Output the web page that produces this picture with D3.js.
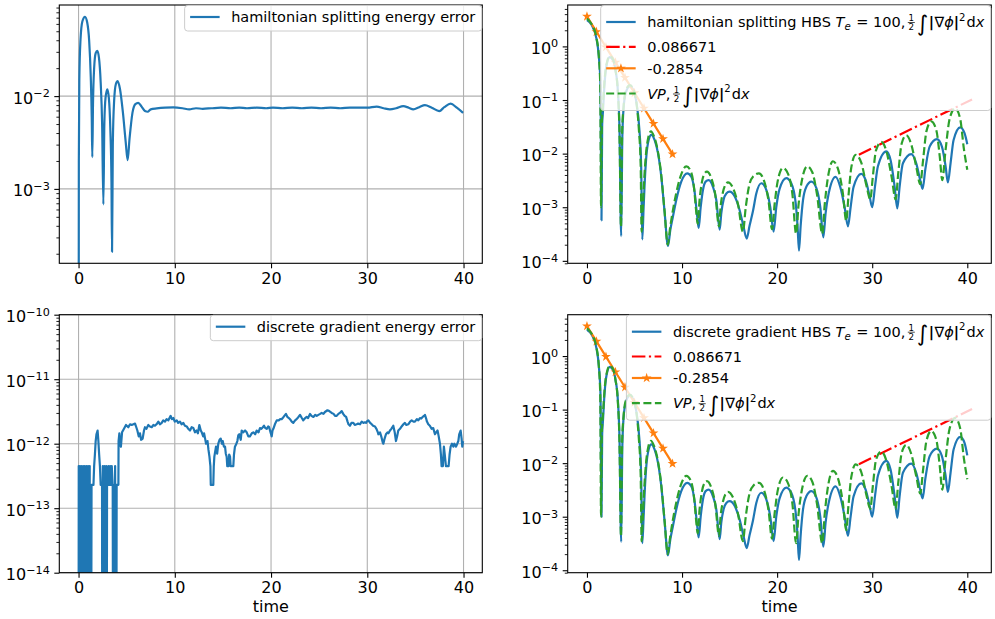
<!DOCTYPE html>
<html>
<head>
<meta charset="utf-8">
<script src="https://cdn.jsdelivr.net/npm/d3@7"></script>
<style>
  body { margin: 0; background: #fff; }
  svg { display: block; font-family: "DejaVu Sans", sans-serif; }
  text { white-space: pre; fill: #000; }
</style>
</head>
<body>
<svg id="fig" width="995" height="619"></svg>
<script>
// ---------- data ----------
const xTicks = [0, 10, 20, 30, 40];

// energy error of the hamiltonian splitting scheme  [time, |error|]
const hsError = [[0,0],[0.03,0.002],[0.08,0.015],[0.2,0.04],[0.4,0.064],[0.67,0.0716],[0.9,0.062],[1.1,0.04],[1.27,0.016],[1.37,0.006],[1.43,0.0022],[1.5,0.008],[1.62,0.02],[1.78,0.029],[1.95,0.0308],[2.12,0.026],[2.3,0.014],[2.45,0.005],[2.58,0.00068],[2.68,0.005],[2.8,0.0095],[2.99,0.0118],[3.15,0.0095],[3.3,0.0045],[3.42,0.0012],[3.48,0.00021],[3.56,0.003],[3.7,0.009],[3.88,0.0135],[4.06,0.0145],[4.3,0.012],[4.6,0.0068],[4.9,0.0032],[5.1,0.00204],[5.3,0.0035],[5.6,0.0066],[5.9,0.0082],[6.2,0.00847],[6.55,0.0077],[6.9,0.0069],[7.18,0.00678],[7.5,0.0072],[8.12,0.00736],[9.0,0.0075],[9.85,0.00755],[10.8,0.0074],[11.5,0.0072],[12.2,0.0074],[12.9,0.0073],[13.8,0.0074],[14.8,0.0075],[15.8,0.0074],[16.7,0.0075],[17.5,0.0074],[18.5,0.0075],[19.5,0.0074],[20.2,0.0075],[21.2,0.0074],[22.2,0.0075],[23.2,0.0074],[24.2,0.0075],[25.2,0.0074],[26.2,0.0075],[27.2,0.0074],[28.2,0.0075],[29.2,0.0075],[30.0,0.0075],[30.97,0.0077],[31.7,0.0074],[32.35,0.0072],[33.0,0.0074],[33.74,0.0078],[34.3,0.0075],[34.78,0.0072],[35.4,0.0076],[35.99,0.008],[36.7,0.0075],[37.48,0.0069],[38.0,0.0076],[38.66,0.0083],[39.3,0.0075],[39.95,0.0066]];

// energy error of the discrete gradient scheme  [time, |error|]  (0 = exact)
const dgError = [[0,0],[0.02,4.5e-13],[0.05,0],[0.08,2.3e-13],[0.11,0],[0.14,4.5e-13],[0.17,0],[0.2,2.3e-13],[0.24,0],[0.28,4.5e-13],[0.32,2.3e-13],[0.36,0],[0.4,2.3e-13],[0.44,0],[0.48,4.5e-13],[0.52,0],[0.56,2.3e-13],[0.6,0],[0.64,4.5e-13],[0.68,2.3e-13],[0.72,0],[0.76,2.3e-13],[0.8,0],[0.84,4.5e-13],[0.88,0],[0.92,2.3e-13],[0.96,0],[1.0,4.5e-13],[1.04,2.3e-13],[1.08,0],[1.12,2.3e-13],[1.16,4.5e-13],[1.2,0],[1.25,2.3e-13],[1.3,0],[1.35,2.3e-13],[1.55,2.3e-13],[1.62,4.5e-13],[1.7,6.8e-13],[1.78,1.1e-12],[1.86,1.4e-12],[1.98,1.6e-12],[2.06,1.1e-12],[2.14,6.8e-13],[2.22,4.5e-13],[2.3,2.3e-13],[2.44,2.3e-13],[2.48,0],[2.52,4.5e-13],[2.56,0],[2.6,2.3e-13],[2.64,0],[2.68,4.5e-13],[2.72,2.3e-13],[2.76,0],[2.8,2.3e-13],[2.84,0],[2.88,4.5e-13],[2.92,0],[2.96,2.3e-13],[3.05,2.3e-13],[3.1,4.5e-13],[3.2,2.3e-13],[3.28,4.5e-13],[3.36,2.3e-13],[3.45,4.5e-13],[3.55,2.3e-13],[3.6,0],[3.64,2.3e-13],[3.68,0],[3.72,2.3e-13],[3.76,0],[3.8,4.5e-13],[3.84,0],[3.88,2.3e-13],[3.92,0],[3.96,2.3e-13],[4.14,2.3e-13],[4.16,1.1e-12],[4.24,1.45e-12],[4.32,1.0e-12],[4.4,9e-13],[4.52,1.5e-12],[4.72,1.7e-12],[4.93,1.95e-12],[5.17,1.8e-12],[5.35,2.0e-12],[5.52,1.95e-12],[5.7,2.0e-12],[5.87,2.05e-12],[6.0,1.8e-12],[6.11,1.6e-12],[6.25,1.3e-12],[6.38,1.45e-12],[6.5,1.15e-12],[6.66,1.2e-12],[6.8,1.6e-12],[6.9,1.8e-12],[7.05,1.7e-12],[7.25,1.95e-12],[7.42,1.85e-12],[7.6,1.8e-12],[7.78,1.95e-12],[7.94,1.9e-12],[8.1,2.0e-12],[8.29,2.2e-12],[8.45,2.0e-12],[8.64,2.1e-12],[8.8,2.3e-12],[8.98,2.2e-12],[9.15,2.4e-12],[9.33,2.3e-12],[9.57,2.7e-12],[9.7,2.4e-12],[9.85,2.5e-12],[10.0,2.2e-12],[10.2,2.3e-12],[10.35,2.1e-12],[10.54,2.2e-12],[10.7,2.0e-12],[10.89,2.1e-12],[11.05,1.9e-12],[11.24,1.85e-12],[11.4,1.7e-12],[11.58,1.6e-12],[11.75,1.8e-12],[11.93,1.75e-12],[12.1,1.5e-12],[12.27,1.6e-12],[12.4,1.45e-12],[12.55,1.95e-12],[12.7,1.6e-12],[12.8,1.5e-12],[12.95,1.3e-12],[13.04,1.45e-12],[13.15,1.2e-12],[13.25,1.0e-12],[13.4,1.1e-12],[13.5,8e-13],[13.6,6.3e-13],[13.7,4.5e-13],[13.74,2.3e-13],[14.0,2.3e-13],[14.05,4.5e-13],[14.11,6.3e-13],[14.28,9e-13],[14.4,7e-13],[14.52,1.0e-12],[14.65,1.15e-12],[14.77,1.2e-12],[14.9,1.0e-12],[14.98,1.1e-12],[15.1,9e-13],[15.22,9e-13],[15.3,7e-13],[15.39,6.3e-13],[15.45,4.5e-13],[15.6,4.5e-13],[15.65,6.8e-13],[15.74,6.3e-13],[15.8,4.5e-13],[16.08,4.5e-13],[16.15,6.8e-13],[16.25,9e-13],[16.4,1.0e-12],[16.5,1.1e-12],[16.6,1.35e-12],[16.7,1.4e-12],[16.85,1.15e-12],[16.95,1.6e-12],[17.1,1.5e-12],[17.3,1.6e-12],[17.47,1.5e-12],[17.64,1.3e-12],[17.8,1.3e-12],[18.0,1.45e-12],[18.16,1.5e-12],[18.35,1.4e-12],[18.5,1.6e-12],[18.7,1.5e-12],[18.85,1.75e-12],[19.0,1.7e-12],[19.15,1.8e-12],[19.27,1.9e-12],[19.4,1.75e-12],[19.55,1.7e-12],[19.7,1.85e-12],[19.8,1.8e-12],[19.95,1.5e-12],[20.07,1.3e-12],[20.15,1.6e-12],[20.24,1.7e-12],[20.4,2.0e-12],[20.59,2.3e-12],[20.8,2.3e-12],[20.95,2.4e-12],[21.1,2.4e-12],[21.3,2.6e-12],[21.55,2.9e-12],[21.7,2.6e-12],[21.85,2.5e-12],[21.97,2.4e-12],[22.15,2.2e-12],[22.31,2.1e-12],[22.5,2.3e-12],[22.66,2.4e-12],[22.85,2.6e-12],[23.01,2.8e-12],[23.2,2.5e-12],[23.35,2.3e-12],[23.55,2.5e-12],[23.7,2.6e-12],[23.85,2.5e-12],[24.05,2.9e-12],[24.2,2.7e-12],[24.4,2.6e-12],[24.6,2.8e-12],[24.75,2.7e-12],[24.92,2.8e-12],[25.1,2.9e-12],[25.26,3.0e-12],[25.45,2.9e-12],[25.6,3.1e-12],[25.86,3.3e-12],[26.05,3.2e-12],[26.3,3.0e-12],[26.5,2.9e-12],[26.65,2.7e-12],[26.82,2.7e-12],[27.0,2.9e-12],[27.15,3.0e-12],[27.34,3.2e-12],[27.5,2.9e-12],[27.65,2.7e-12],[27.8,2.6e-12],[27.95,2.2e-12],[28.05,2.0e-12],[28.2,1.9e-12],[28.35,2.1e-12],[28.55,2.1e-12],[28.7,1.95e-12],[28.9,2.0e-12],[29.05,2.05e-12],[29.25,2.0e-12],[29.42,2.2e-12],[29.6,2.1e-12],[29.75,2.15e-12],[29.87,2.1e-12],[30.0,2.25e-12],[30.11,2.3e-12],[30.3,2.1e-12],[30.46,2.0e-12],[30.6,1.9e-12],[30.8,1.85e-12],[30.95,1.7e-12],[31.1,1.5e-12],[31.15,1.4e-12],[31.32,1.5e-12],[31.45,1.3e-12],[31.6,1.05e-12],[31.67,1.0e-12],[31.8,1.2e-12],[31.94,1.4e-12],[32.1,1.5e-12],[32.2,1.45e-12],[32.36,1.6e-12],[32.5,1.7e-12],[32.6,1.8e-12],[32.7,1.9e-12],[32.85,1.5e-12],[32.98,1.1e-12],[33.1,1.3e-12],[33.22,1.6e-12],[33.4,1.7e-12],[33.57,1.85e-12],[33.75,2.0e-12],[33.91,2.1e-12],[34.05,1.95e-12],[34.26,2.0e-12],[34.45,2.2e-12],[34.61,2.3e-12],[34.8,2.2e-12],[34.95,2.2e-12],[35.15,2.4e-12],[35.3,2.3e-12],[35.47,2.5e-12],[35.6,2.45e-12],[35.75,2.6e-12],[35.9,2.7e-12],[35.99,2.8e-12],[36.1,2.5e-12],[36.2,2.2e-12],[36.34,2.0e-12],[36.5,1.9e-12],[36.68,1.7e-12],[36.85,1.75e-12],[37.03,1.4e-12],[37.15,1.5e-12],[37.3,1.6e-12],[37.42,1.3e-12],[37.55,1.0e-12],[37.65,6.8e-13],[37.72,4.5e-13],[37.85,4.5e-13],[37.96,9e-13],[38.05,6.8e-13],[38.17,4.5e-13],[38.45,4.5e-13],[38.55,6.8e-13],[38.66,9e-13],[38.8,1.0e-12],[38.94,9e-13],[39.05,1.0e-12],[39.22,9e-13],[39.35,1.0e-12],[39.46,1.1e-12],[39.55,1.4e-12],[39.7,1.6e-12],[39.8,1.2e-12],[39.87,9e-13],[39.95,1.1e-12]];

// field energy 1/2 int |grad phi|^2 dx, hamiltonian splitting HBS  [time, energy]
const hsField = [[0,3.1],[0.5,2.5],[1.0,1.4],[1.25,0.65],[1.42,0.2],[1.53,0.00057],[1.6,0.035],[1.68,0.06],[1.85,0.2],[2.05,0.43],[2.4,0.63],[2.75,0.55],[3.0,0.36],[3.25,0.15],[3.42,0.03],[3.6,0.00029],[3.72,0.02],[3.85,0.07],[4.1,0.14],[4.5,0.18],[4.9,0.15],[5.2,0.09],[5.5,0.03],[5.7,0.006],[5.82,0.00025],[5.95,0.0009],[6.07,0.0028],[6.24,0.0087],[6.49,0.018],[6.77,0.0224],[7.11,0.018],[7.47,0.0102],[7.82,0.0037],[8.17,0.0008],[8.52,0.00019],[8.77,0.00038],[9.05,0.00068],[9.4,0.00138],[9.92,0.003],[10.55,0.00427],[10.97,0.0037],[11.32,0.00195],[11.6,0.00066],[11.75,0.00041],[11.96,0.001],[12.2,0.0021],[12.48,0.003],[12.8,0.0032],[13.25,0.0024],[13.6,0.00138],[13.96,0.00038],[14.13,0.00078],[14.37,0.00138],[14.66,0.0018],[15.0,0.00195],[15.53,0.0016],[16.05,0.00089],[16.45,0.00045],[16.8,0.00026],[17.1,0.00045],[17.46,0.00085],[17.81,0.0018],[18.34,0.0028],[18.86,0.0021],[19.28,0.001],[19.63,0.00035],[19.91,0.001],[20.26,0.0022],[20.96,0.0035],[21.49,0.0028],[21.95,0.0012],[22.15,0.00044],[22.3,0.000155],[22.47,0.00044],[22.72,0.00135],[23.07,0.0024],[23.6,0.003],[24.12,0.0023],[24.54,0.001],[24.86,0.000275],[25.1,0.00078],[25.42,0.0018],[26.15,0.0037],[26.64,0.0024],[27.1,0.001],[27.45,0.00044],[27.73,0.001],[28.04,0.0024],[28.85,0.0042],[29.31,0.0032],[29.73,0.0016],[30.0,0.001],[30.29,0.0024],[30.6,0.0058],[31.48,0.011],[31.93,0.0076],[32.36,0.0024],[32.64,0.00095],[32.88,0.0024],[33.23,0.0066],[34.11,0.0098],[34.63,0.0066],[35.05,0.0032],[35.3,0.0022],[35.58,0.005],[36.04,0.0135],[36.81,0.0186],[37.33,0.0135],[37.72,0.0058],[37.96,0.0029],[38.24,0.0066],[38.56,0.018],[39.26,0.031],[39.71,0.024],[40.0,0.015]];

// field energy, discrete gradient HBS  [time, energy]
const dgField = [[0,3.1],[0.5,2.5],[1.0,1.4],[1.25,0.65],[1.42,0.2],[1.53,0.001],[1.6,0.035],[1.68,0.06],[1.85,0.2],[2.05,0.43],[2.4,0.63],[2.75,0.55],[3.0,0.36],[3.25,0.15],[3.42,0.03],[3.6,0.00034],[3.72,0.02],[3.85,0.07],[4.1,0.14],[4.5,0.18],[4.9,0.15],[5.2,0.09],[5.5,0.03],[5.7,0.006],[5.82,0.00032],[5.95,0.0009],[6.07,0.0028],[6.24,0.0087],[6.49,0.018],[6.77,0.0224],[7.11,0.018],[7.47,0.0102],[7.82,0.0037],[8.17,0.0008],[8.52,0.00019],[8.77,0.00038],[9.05,0.00068],[9.4,0.00138],[9.92,0.003],[10.55,0.00427],[10.97,0.0037],[11.32,0.00195],[11.6,0.00066],[11.75,0.00041],[11.96,0.001],[12.2,0.0021],[12.48,0.003],[12.8,0.0032],[13.25,0.0024],[13.6,0.00138],[13.96,0.00038],[14.13,0.00078],[14.37,0.00138],[14.66,0.0018],[15.0,0.00195],[15.53,0.0016],[16.05,0.00089],[16.45,0.00045],[16.8,0.00026],[17.1,0.00045],[17.46,0.00085],[17.81,0.0018],[18.34,0.0028],[18.86,0.0021],[19.28,0.001],[19.63,0.00035],[19.91,0.001],[20.26,0.0022],[20.96,0.0035],[21.49,0.0028],[21.95,0.0012],[22.15,0.00044],[22.3,0.000155],[22.47,0.00044],[22.72,0.00135],[23.07,0.0024],[23.6,0.003],[24.12,0.0023],[24.54,0.001],[24.86,0.000275],[25.1,0.00078],[25.42,0.0018],[26.15,0.0037],[26.64,0.0024],[27.1,0.001],[27.45,0.00044],[27.73,0.001],[28.04,0.0024],[28.85,0.0042],[29.31,0.0032],[29.73,0.0016],[30.0,0.001],[30.29,0.0024],[30.6,0.0058],[31.48,0.011],[31.93,0.0076],[32.36,0.0024],[32.64,0.00095],[32.88,0.0024],[33.23,0.0066],[34.11,0.0098],[34.63,0.0066],[35.05,0.0032],[35.3,0.0022],[35.58,0.005],[36.04,0.0135],[36.81,0.0186],[37.33,0.0135],[37.72,0.0058],[37.96,0.0029],[38.24,0.0066],[38.56,0.018],[39.26,0.031],[39.71,0.024],[40.0,0.014]];

// reference Vlasov-Poisson field energy  [time, energy]
const vpField = [[0,3.3],[0.5,2.6],[1.0,1.45],[1.25,0.65],[1.4,0.18],[1.48,0.001],[1.57,0.04],[1.68,0.08],[1.84,0.22],[2.05,0.46],[2.4,0.66],[2.75,0.57],[3.0,0.36],[3.25,0.14],[3.42,0.025],[3.58,0.00043],[3.7,0.025],[3.85,0.075],[4.1,0.15],[4.5,0.19],[4.9,0.155],[5.2,0.09],[5.45,0.03],[5.65,0.006],[5.75,0.00035],[5.88,0.001],[6.0,0.0028],[6.2,0.0095],[6.45,0.02],[6.72,0.026],[7.05,0.021],[7.42,0.012],[7.8,0.0042],[8.15,0.0009],[8.5,0.0002],[8.75,0.00042],[9.0,0.0008],[9.35,0.0017],[9.85,0.0038],[10.45,0.0058],[10.9,0.0048],[11.25,0.0024],[11.5,0.0008],[11.64,0.00049],[11.85,0.0014],[12.1,0.003],[12.35,0.0042],[12.62,0.0046],[13.1,0.0034],[13.5,0.0017],[13.89,0.00044],[14.05,0.001],[14.3,0.0019],[14.55,0.0026],[14.83,0.0029],[15.35,0.0023],[15.9,0.0011],[16.4,0.00035],[16.7,0.001],[17.05,0.0025],[17.5,0.0038],[18.09,0.0043],[18.6,0.0032],[19.1,0.0013],[19.46,0.00039],[19.75,0.0012],[20.05,0.003],[20.61,0.0054],[21.15,0.0042],[21.6,0.0018],[22.0,0.00032],[22.25,0.0011],[22.55,0.0028],[23.17,0.0058],[23.7,0.0045],[24.2,0.0017],[24.75,0.00032],[25.0,0.0011],[25.3,0.0032],[25.87,0.0072],[26.4,0.0052],[26.9,0.0019],[27.27,0.00056],[27.5,0.0016],[27.8,0.0055],[28.26,0.0095],[28.85,0.0068],[29.4,0.0025],[29.8,0.0014],[30.05,0.0035],[30.4,0.0115],[30.95,0.0165],[31.5,0.011],[32.05,0.0036],[32.46,0.0014],[32.75,0.0045],[33.1,0.0155],[33.58,0.022],[34.1,0.015],[34.65,0.0055],[35.05,0.0027],[35.35,0.0075],[35.7,0.026],[36.21,0.04],[36.75,0.027],[37.1,0.009],[37.37,0.0032],[37.7,0.011],[38.15,0.045],[38.73,0.07],[39.25,0.045],[39.65,0.012],[40.0,0.005]];

// fitted exponential rates (log10 slope per unit time) and their anchors
const decayRate = -0.2854;
const decayStart = 3.62;
const decayTimes = [0, 1, 2, 3, 4, 5, 6, 7, 8, 9];
const growthRate = 0.086671;
const growthStart = 0.00955;
const growthTimes = [28.6, 40.5];

// ---------- styling ----------
const FS_TICK = 16, FS_LEG = 14.5;
const LW = 2.2, SPINE = 1.1, TICK_MAJ = 5, TICK_MIN = 2.9;
const COL = { blue: '#1f77b4', orange: '#ff7f0e', green: '#2ca02c', red: '#ff0000', grid: '#b0b0b0' };
const DASH = '8,3.5';
const DASHDOT = '13.5,3.5,2.2,3.5';

const svg = d3.select('#fig');
const defs = svg.append('defs');

function makePanel(cfg) {
  const x = d3.scaleLinear().domain(cfg.xDomain).range([cfg.left, cfg.right]);
  const y = d3.scaleLog().domain(cfg.yDomain).range([cfg.bottom, cfg.top]);
  const g = svg.append('g');
  defs.append('clipPath').attr('id', 'clip-' + cfg.id).append('rect')
    .attr('x', cfg.left).attr('y', cfg.top)
    .attr('width', cfg.right - cfg.left).attr('height', cfg.bottom - cfg.top);

  const lo = Math.ceil(Math.log10(cfg.yDomain[0]) - 1e-9);
  const hi = Math.floor(Math.log10(cfg.yDomain[1]) + 1e-9);
  const majors = d3.range(lo, hi + 1).map(e => Math.pow(10, e));
  const minors = [];
  for (let e = lo - 1; e <= hi; e++) {
    for (let m = 2; m <= 9; m++) {
      const v = m * Math.pow(10, e);
      if (v >= cfg.yDomain[0] && v <= cfg.yDomain[1]) minors.push(v);
    }
  }

  if (cfg.grid) {
    const gg = g.append('g').attr('stroke', COL.grid).attr('stroke-width', SPINE);
    xTicks.forEach(v => gg.append('line').attr('x1', x(v)).attr('x2', x(v)).attr('y1', cfg.top).attr('y2', cfg.bottom));
    majors.forEach(v => gg.append('line').attr('x1', cfg.left).attr('x2', cfg.right).attr('y1', y(v)).attr('y2', y(v)));
  }

  const plot = g.append('g').attr('clip-path', `url(#clip-${cfg.id})`);
  const over = svg.append('g'); // frame, ticks and legend live above the data

  // bottom axis
  const xa = over.append('g').attr('transform', `translate(0,${cfg.bottom})`)
    .call(d3.axisBottom(x).tickValues(xTicks).tickSize(TICK_MAJ).tickPadding(4).tickSizeOuter(0).tickFormat(d3.format('d')));
  xa.select('.domain').remove();
  xa.attr('font-family', 'DejaVu Sans').attr('font-size', FS_TICK);
  xa.selectAll('line').attr('stroke', '#000').attr('stroke-width', SPINE);
  xa.selectAll('text').attr('fill', '#000');

  // left axis, minor ticks
  const ym = over.append('g').attr('transform', `translate(${cfg.left},0)`)
    .call(d3.axisLeft(y).tickValues(minors).tickSize(TICK_MIN).tickSizeOuter(0).tickFormat(() => ''));
  ym.select('.domain').remove();
  ym.selectAll('line').attr('stroke', '#000').attr('stroke-width', SPINE * 0.8);

  // left axis, major ticks with 10^n labels
  const ya = over.append('g').attr('transform', `translate(${cfg.left},0)`)
    .call(d3.axisLeft(y).tickValues(majors).tickSize(TICK_MAJ).tickPadding(4.5).tickSizeOuter(0).tickFormat(() => ''));
  ya.select('.domain').remove();
  ya.attr('font-family', 'DejaVu Sans').attr('font-size', FS_TICK);
  ya.selectAll('line').attr('stroke', '#000').attr('stroke-width', SPINE);
  ya.selectAll('.tick text').each(function (d) {
    const e = Math.round(Math.log10(d));
    const t = d3.select(this).attr('dy', '0.44em').attr('fill', '#000').text(null);
    t.append('tspan').text('10');
    t.append('tspan').attr('dy', -6.5).attr('font-size', FS_TICK * 0.7)
      .text(e < 0 ? '\u2212' + (-e) : String(e));
  });

  // frame
  over.append('rect').attr('x', cfg.left).attr('y', cfg.top)
    .attr('width', cfg.right - cfg.left).attr('height', cfg.bottom - cfg.top)
    .attr('fill', 'none').attr('stroke', '#000').attr('stroke-width', SPINE);

  if (cfg.xlabel) {
    over.append('text').attr('x', (cfg.left + cfg.right) / 2).attr('y', cfg.bottom + 39.5)
      .attr('text-anchor', 'middle').attr('font-size', FS_TICK).text(cfg.xlabel);
  }
  return { x, y, plot, over, cfg };
}

function drawLine(p, data, color, dash, curve) {
  const floor = p.cfg.yDomain[0] * 1e-3;
  const line = d3.line()
    .x(d => p.x(d[0]))
    .y(d => p.y(Math.max(d[1], floor)))
    .curve(curve || d3.curveMonotoneX);
  p.plot.append('path').datum(data).attr('d', line)
    .attr('fill', 'none').attr('stroke', color).attr('stroke-width', LW)
    .attr('stroke-linejoin', 'round')
    .attr('stroke-dasharray', dash || null);
}

// lays out a run of text pieces (plain, italic, bold, sub/superscript, fraction); returns its width
function layoutParts(parent, x0, base, parts, fs) {
  let cx = x0;
  for (const p of parts) {
    if (p.frac) {
      const sz = fs * 0.6;
      const n = parent.append('text').attr('font-size', sz).attr('y', base - 6).text(p.frac[0]);
      const d = parent.append('text').attr('font-size', sz).attr('y', base + 3).text(p.frac[1]);
      const wn = n.node().getComputedTextLength(), wd = d.node().getComputedTextLength();
      const w = Math.max(wn, wd) + 1.5;
      n.attr('x', cx + 1 + (w - wn) / 2);
      d.attr('x', cx + 1 + (w - wd) / 2);
      parent.append('line').attr('x1', cx + 1).attr('x2', cx + 1 + w)
        .attr('y1', base - 4.7).attr('y2', base - 4.7).attr('stroke', '#000').attr('stroke-width', 0.7);
      cx += w + 3;
    } else {
      let sz = fs, dy = 0;
      if (p.sup) { sz = fs * 0.7; dy = -6.5; }
      if (p.sub) { sz = fs * 0.7; dy = 3; }
      if (p.big) { sz = fs * p.big; dy = p.dy || 0; }
      const t = parent.append('text').attr('x', cx).attr('y', base + dy).attr('font-size', sz).text(p.t);
      if (p.it) t.attr('font-style', 'italic');
      if (p.bold) t.attr('font-weight', 'bold');
      cx += t.node().getComputedTextLength() + (p.kern || 0);
    }
  }
  return cx - x0;
}

// legend anchored at the upper-right corner of a panel
function drawLegend(p, entries, rowY, height) {
  const cfg = p.cfg;
  const lg = p.over.append('g');
  const box = lg.append('rect');
  const padL = 5.5, hand = 29.5, gap = 11.5, padR = 7;
  const texts = lg.append('g');
  let maxW = 0;
  entries.forEach((e, i) => {
    const w = layoutParts(texts, 0, rowY[i] + 5.2, e.parts, FS_LEG);
    maxW = Math.max(maxW, w);
  });
  const width = padL + hand + gap + maxW + padR;
  const left = cfg.right - width;
  box.attr('x', left).attr('y', cfg.top + 0.5).attr('width', width - 0.5).attr('height', height)
    .attr('rx', 3).attr('fill', '#fff').attr('fill-opacity', 0.8)
    .attr('stroke', '#cccccc').attr('stroke-width', 1);
  texts.attr('transform', `translate(${left + padL + hand + gap},${cfg.top})`);
  entries.forEach((e, i) => {
    const yy = cfg.top + rowY[i];
    const x1 = left + padL, x2 = x1 + hand;
    lg.append('line').attr('x1', x1).attr('x2', x2).attr('y1', yy).attr('y2', yy)
      .attr('stroke', e.color).attr('stroke-width', LW).attr('stroke-dasharray', e.dash || null);
    if (e.star) {
      lg.append('path').attr('d', d3.symbol(d3.symbolStar, 30)())
        .attr('transform', `translate(${(x1 + x2) / 2},${yy})`).attr('fill', e.color);
    }
  });
}

// ---------- panels ----------
const tl = makePanel({ id: 'tl', left: 59.3, right: 482.3, top: 5, bottom: 263.3,
  xDomain: [-2, 41.95], yDomain: [1.578e-4, 0.0959], grid: true });
const tr = makePanel({ id: 'tr', left: 567.7, right: 991.3, top: 5, bottom: 263.3,
  xDomain: [-2.025, 42.525], yDomain: [9e-5, 5.92], grid: false });
const bl = makePanel({ id: 'bl', left: 59.3, right: 482.3, top: 314.7, bottom: 572.7,
  xDomain: [-2, 41.95], yDomain: [1e-14, 1e-10], grid: true, xlabel: 'time' });
const br = makePanel({ id: 'br', left: 567.7, right: 991.3, top: 314.7, bottom: 572.7,
  xDomain: [-2.025, 42.525], yDomain: [9e-5, 5.92], grid: false, xlabel: 'time' });

// energy errors
drawLine(tl, hsError, COL.blue);
drawLine(bl, dgError, COL.blue, null, d3.curveLinear);

drawLegend(tl, [{ color: COL.blue, parts: [{ t: 'hamiltonian splitting energy error' }] }], [12], 25.5);
drawLegend(bl, [{ color: COL.blue, parts: [{ t: 'discrete gradient energy error' }] }], [12], 25.5);

// field energy panels
const decayFit = decayTimes.map(t => [t, decayStart * Math.pow(10, decayRate * t)]);
const growthFit = growthTimes.map(t => [t, growthStart * Math.pow(10, growthRate * (t - growthTimes[0]))]);

const energyTail = [
  { frac: ['1', '2'] },
  { t: '\u222B', big: 1.5, dy: 4, kern: 0.5 },
  { t: '|', bold: true, kern: 0.5 },
  { t: '\u2207' },
  { t: '\u03D5', it: true },
  { t: '|', bold: true },
  { t: '2', sup: true, kern: 1 },
  { t: 'd' },
  { t: 'x', it: true }
];

function fieldPanel(p, field, name) {
  drawLine(p, field, COL.blue);
  drawLine(p, growthFit, COL.red, DASHDOT, d3.curveLinear);
  drawLine(p, decayFit, COL.orange, null, d3.curveLinear);
  p.plot.selectAll('.star').data(decayFit).join('path').attr('class', 'star')
    .attr('d', d3.symbol(d3.symbolStar, 30)())
    .attr('transform', d => `translate(${p.x(d[0])},${p.y(d[1])})`)
    .attr('fill', COL.orange);
  drawLine(p, vpField, COL.green, DASH);

  drawLegend(p, [
    { color: COL.blue, parts: [{ t: name + ' HBS ' }, { t: 'T', it: true }, { t: 'e', it: true, sub: true, kern: 1 },
      { t: ' = 100,', kern: 1.5 }].concat(energyTail) },
    { color: COL.red, dash: DASHDOT, parts: [{ t: String(growthRate) }] },
    { color: COL.orange, star: true, parts: [{ t: String(decayRate) }] },
    { color: COL.green, dash: DASH, parts: [{ t: 'VP', it: true }, { t: ',', kern: 1.5 }].concat(energyTail) }
  ], [17, 41.8, 63.3, 88.5], 105);
}

fieldPanel(tr, hsField, 'hamiltonian splitting');
fieldPanel(br, dgField, 'discrete gradient');
</script>
</body>
</html>
